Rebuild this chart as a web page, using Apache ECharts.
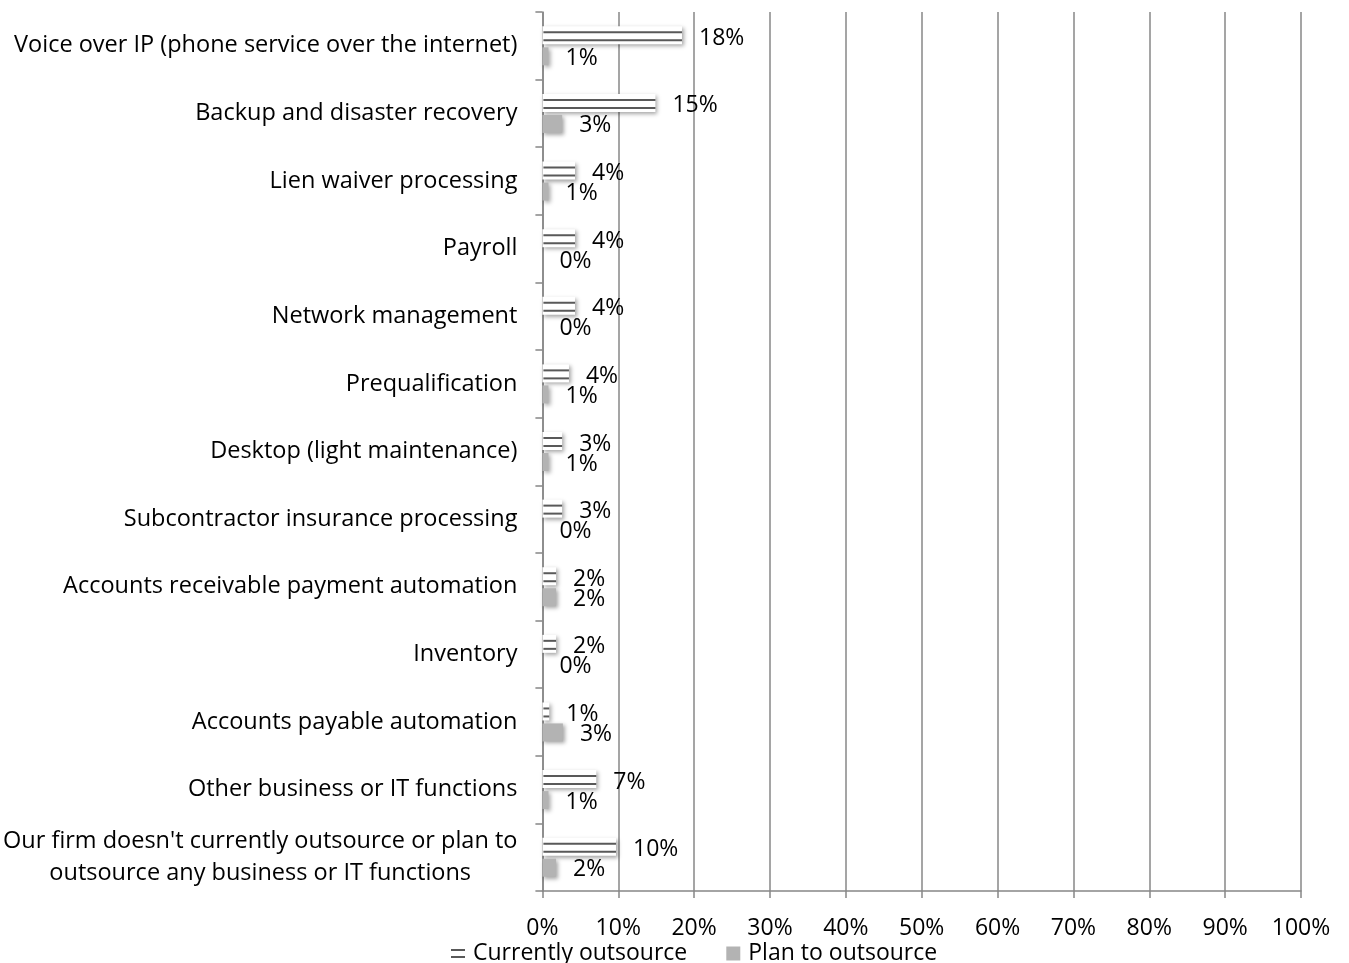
<!DOCTYPE html>
<html>
<head>
<meta charset="utf-8">
<script src="https://cdn.jsdelivr.net/npm/echarts@6/dist/echarts.min.js"></script>
<style>
html,body{margin:0;padding:0;background:#fff;}
#chart{width:1349px;height:963px;}
</style>
</head>
<body>
<div id="chart"></div>
<script>
const categories = [
  'Voice over IP (phone service over the internet)',
  'Backup and disaster recovery',
  'Lien waiver processing',
  'Payroll',
  'Network management',
  'Prequalification',
  'Desktop (light maintenance)',
  'Subcontractor insurance processing',
  'Accounts receivable payment automation',
  'Inventory',
  'Accounts payable automation',
  'Other business or IT functions',
  "Our firm doesn't currently outsource or plan to\noutsource any business or IT functions"
];
const currentlyOutsource = [18.4, 14.9, 4.3, 4.3, 4.3, 3.5, 2.6, 2.6, 1.8, 1.8, 0.9, 7.1, 9.7];
const planToOutsource = [0.8, 2.6, 0.8, 0, 0, 0.8, 0.8, 0, 1.8, 0, 2.7, 0.8, 1.8];
const xTicks = [0, 10, 20, 30, 40, 50, 60, 70, 80, 90, 100];

const FONT = '"Open Sans", Lato, sans-serif';
const FS = 23;
const FS_CAT = 23.5;
const BW = 18;
const GAP = 3;
const GRAY = '#878787';

const chart = echarts.init(document.getElementById('chart'), null, {renderer: 'canvas'});

const shadow = {shadowColor: 'rgba(0,0,0,0.35)', shadowBlur: 4, shadowOffsetX: 2, shadowOffsetY: 2};

chart.setOption({
  animation: false,
  backgroundColor: '#fff',
  textStyle: {fontFamily: FONT},
  grid: {left: 542, right: 48, top: 12, bottom: 72, containLabel: false},
  legend: {
    left: 446, top: 937,
    itemWidth: 14, itemHeight: 14, itemGap: 39,
    textStyle: {fontFamily: FONT, fontSize: FS, color: '#000', padding: [0, 0, 0, 3]},
    data: [
      {name: 'Currently outsource', icon: 'path://M0,0H14V2H0Z M0,7H14V9H0Z', itemStyle: {color: '#595959', borderWidth: 0, shadowBlur: 0, shadowOffsetX: 0, shadowOffsetY: 0}},
      {name: 'Plan to outsource', icon: 'rect', itemStyle: {color: '#b3b3b3', shadowBlur: 0, shadowOffsetX: 0, shadowOffsetY: 0}}
    ]
  },
  xAxis: {
    type: 'value', min: xTicks[0], max: xTicks[xTicks.length - 1], interval: 10,
    axisLine: {show: true, lineStyle: {color: GRAY, width: 1.5}},
    axisTick: {show: true, length: 7, lineStyle: {color: GRAY, width: 1.5}},
    axisLabel: {formatter: '{value}%', color: '#000', fontSize: FS, fontFamily: FONT, margin: 26},
    splitLine: {show: true, lineStyle: {color: GRAY, width: 1.5}}
  },
  yAxis: {
    type: 'category', inverse: true, data: categories,
    axisLine: {show: true, lineStyle: {color: GRAY, width: 1.5}},
    axisTick: {show: true, length: 7, lineStyle: {color: GRAY, width: 1.5}},
    axisLabel: {
      color: '#000', fontSize: FS_CAT, fontFamily: FONT, margin: 25,
      formatter: function (v) {
        if (v.indexOf('\n') < 0) return v;
        return v.split('\n').map(function (s) { return '{c|' + s + '}'; }).join('\n');
      },
      rich: {c: {align: 'center', fontSize: FS_CAT, fontFamily: FONT, color: '#000', lineHeight: 32}}
    },
    splitLine: {show: false}
  },
  series: [
    {
      name: 'Currently outsource', type: 'bar', data: currentlyOutsource,
      barWidth: BW, barGap: (GAP / BW * 100) + '%',
      itemStyle: Object.assign({color: '#ffffff'}, shadow),
      label: {show: true, position: 'right', distance: 17, offset: [0, 3], color: '#000', fontSize: FS, fontFamily: FONT,
        formatter: function (p) { return Math.round(p.value) + '%'; }},
      z: 2
    },
    {
      name: 'Plan to outsource', type: 'bar', data: planToOutsource,
      barWidth: BW,
      itemStyle: Object.assign({color: '#b3b3b3'}, shadow),
      label: {show: true, position: 'right', distance: 17, offset: [0, 2], color: '#000', fontSize: FS, fontFamily: FONT,
        formatter: function (p) { return Math.round(p.value) + '%'; }},
      z: 2
    },
    {
      name: 'stripes', type: 'custom', silent: true, z: 3,
      data: currentlyOutsource.map(function (v, i) { return [v, i]; }),
      encode: {x: 0, y: 1},
      renderItem: function (params, api) {
        const v = api.value(0), i = api.value(1);
        const p0 = api.coord([0, i]);
        const p1 = api.coord([v, i]);
        const c = p0[1];
        const top = c - GAP / 2 - BW;
        const x0 = p0[0] + 1, x1 = p1[0];
        if (x1 <= x0) return null;
        const style = {fill: '#595959'};
        return {
          type: 'group',
          children: [
            {type: 'rect', shape: {x: x0, y: top + 5, width: x1 - x0, height: 2}, style: style},
            {type: 'rect', shape: {x: x0, y: top + 13, width: x1 - x0, height: 2}, style: style}
          ]
        };
      }
    }
  ]
});
</script>
</body>
</html>
